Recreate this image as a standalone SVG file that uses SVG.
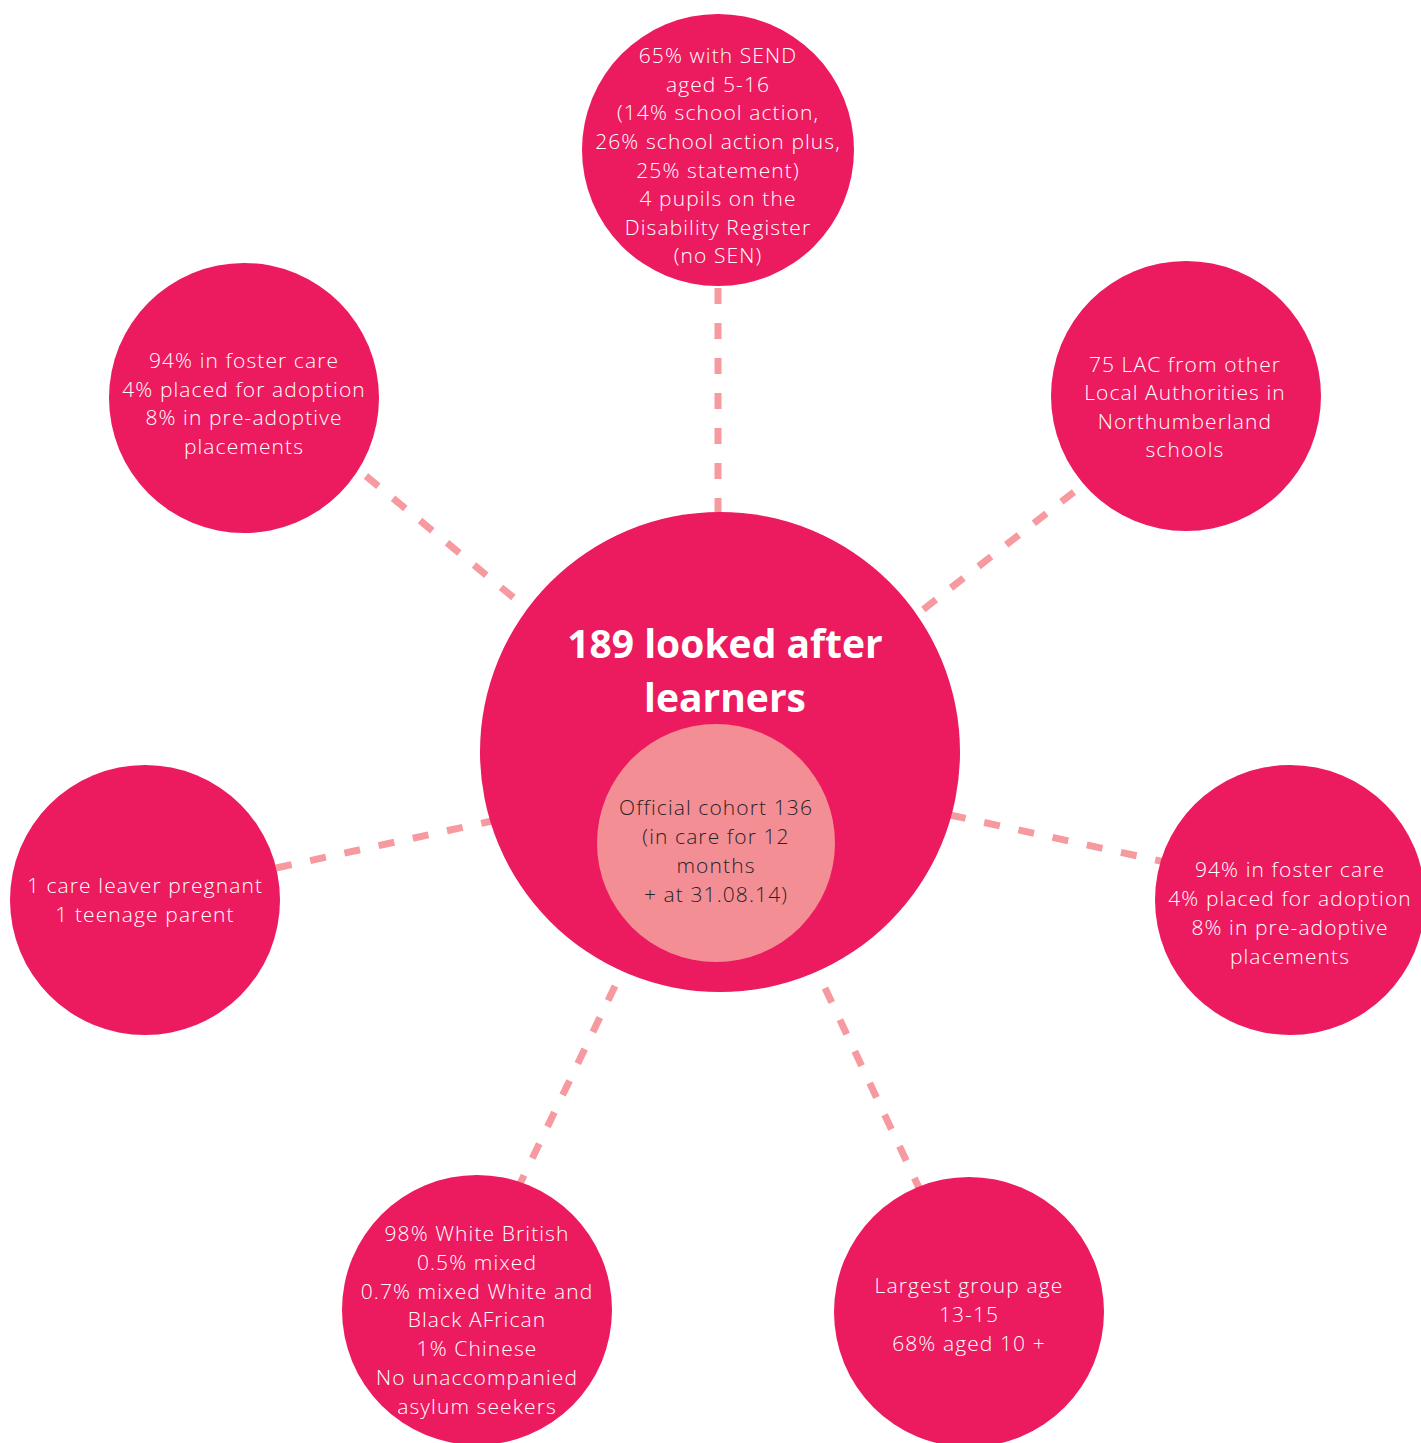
<svg xmlns="http://www.w3.org/2000/svg" width="1421" height="1443" viewBox="0 0 1421 1443">
  <style>
    .bubble { fill: #EC1A5E; }
    .inner { fill: #F48E95; }
    .link { stroke: #F69AA0; stroke-width: 7; stroke-dasharray: 16 19; fill: none; }
    .txt { font-family: "Open Sans", "Noto Sans", "Liberation Sans", sans-serif; font-size: 21px; font-weight: 300; letter-spacing: 1.1px; fill: #FFFFFF; text-anchor: middle; }
    .dark { fill: #2B2325; }
    .title { font-family: "Open Sans", "Noto Sans", "Liberation Sans", sans-serif; font-size: 39px; font-weight: 700; fill: #FFFFFF; text-anchor: middle; }
  </style>
  <rect width="1421" height="1443" fill="#FFFFFF"/>

  <!-- dashed spokes from the hub to each satellite -->
  <g id="connectors">
    <line class="link" x1="718" y1="288" x2="718" y2="515"/>
    <line class="link" x1="366" y1="476" x2="520" y2="603"/>
    <line class="link" x1="1074" y1="492" x2="920" y2="612"/>
    <line class="link" x1="276" y1="868" x2="492" y2="821"/>
    <line class="link" x1="950" y1="815" x2="1165" y2="862"/>
    <line class="link" x1="615" y1="986" x2="518" y2="1188"/>
    <line class="link" x1="825" y1="988" x2="920" y2="1190"/>
  </g>

  <!-- hub -->
  <g id="hub">
    <circle class="bubble" cx="720" cy="752" r="240"/>
    <text class="title" x="725" y="658">189 looked after</text>
    <text class="title" x="725" y="712">learners</text>
  </g>
  <g id="cohort">
    <circle class="inner" cx="716" cy="843" r="119"/>
    <text class="txt dark" x="716" y="815">Official cohort 136</text>
    <text class="txt dark" x="716" y="844">(in care for 12</text>
    <text class="txt dark" x="716" y="873">months</text>
    <text class="txt dark" x="716" y="902">+ at 31.08.14)</text>
  </g>

  <!-- satellites -->
  <g id="send">
    <circle class="bubble" cx="718" cy="150" r="136"/>
    <text class="txt" x="718" y="63">65% with SEND</text>
    <text class="txt" x="718" y="92">aged 5-16</text>
    <text class="txt" x="718" y="120">(14% school action,</text>
    <text class="txt" x="718" y="149">26% school action plus,</text>
    <text class="txt" x="718" y="178">25% statement)</text>
    <text class="txt" x="718" y="206">4 pupils on the</text>
    <text class="txt" x="718" y="235">Disability Register</text>
    <text class="txt" x="718" y="263">(no SEN)</text>
  </g>
  <g id="placements-left">
    <circle class="bubble" cx="244" cy="398" r="135"/>
    <text class="txt" x="244" y="368">94% in foster care</text>
    <text class="txt" x="244" y="397">4% placed for adoption</text>
    <text class="txt" x="244" y="425">8% in pre-adoptive</text>
    <text class="txt" x="244" y="454">placements</text>
  </g>
  <g id="other-la">
    <circle class="bubble" cx="1186" cy="396" r="135"/>
    <text class="txt" x="1185" y="372">75 LAC from other</text>
    <text class="txt" x="1185" y="400">Local Authorities in</text>
    <text class="txt" x="1185" y="429">Northumberland</text>
    <text class="txt" x="1185" y="457">schools</text>
  </g>
  <g id="parents">
    <circle class="bubble" cx="145" cy="900" r="135"/>
    <text class="txt" x="145" y="893">1 care leaver pregnant</text>
    <text class="txt" x="145" y="922">1 teenage parent</text>
  </g>
  <g id="placements-right">
    <circle class="bubble" cx="1290" cy="900" r="135"/>
    <text class="txt" x="1290" y="877">94% in foster care</text>
    <text class="txt" x="1290" y="906">4% placed for adoption</text>
    <text class="txt" x="1290" y="935">8% in pre-adoptive</text>
    <text class="txt" x="1290" y="964">placements</text>
  </g>
  <g id="ethnicity">
    <circle class="bubble" cx="477" cy="1310" r="135"/>
    <text class="txt" x="477" y="1241">98% White British</text>
    <text class="txt" x="477" y="1270">0.5% mixed</text>
    <text class="txt" x="477" y="1299">0.7% mixed White and</text>
    <text class="txt" x="477" y="1327">Black AFrican</text>
    <text class="txt" x="477" y="1356">1% Chinese</text>
    <text class="txt" x="477" y="1385">No unaccompanied</text>
    <text class="txt" x="477" y="1414">asylum seekers</text>
  </g>
  <g id="age">
    <circle class="bubble" cx="969" cy="1312" r="135"/>
    <text class="txt" x="969" y="1293">Largest group age</text>
    <text class="txt" x="969" y="1322">13-15</text>
    <text class="txt" x="969" y="1351">68% aged 10 +</text>
  </g>
</svg>
